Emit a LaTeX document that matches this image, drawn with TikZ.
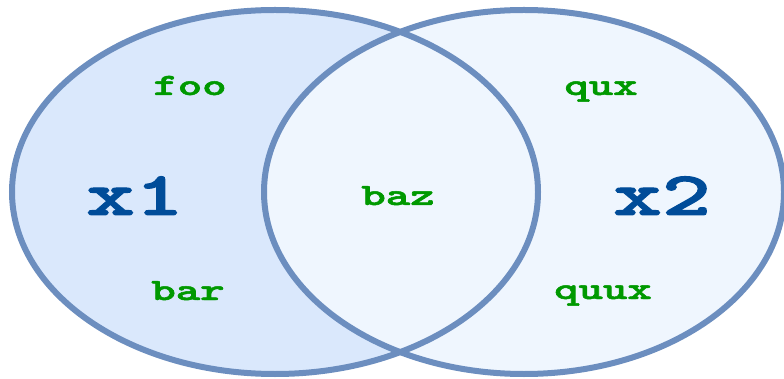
\documentclass[tikz,border=0pt]{standalone}
\usepackage{graphicx}
\usepackage{fontspec}
\newfontfamily\boldmono{lmmonolt10-bold.otf}[FakeBold=1.6]
\definecolor{edgeblue}{HTML}{6C8EBF}
\definecolor{leftfill}{HTML}{DAE8FC}
\definecolor{rightfill}{HTML}{EFF6FE}
\definecolor{lblgreen}{HTML}{009900}
\definecolor{setblue}{HTML}{004C99}
\newcommand\hstretch[1]{\scalebox{1.5}[1]{#1}}
\tikzset{
  setedge/.style={draw=edgeblue, line width=6pt},
  lbl/.style={anchor=base, inner sep=0pt, text=lblgreen, font=\boldmono\fontsize{31}{31}\selectfont},
  setlbl/.style={anchor=base, inner sep=0pt, text=setblue, font=\boldmono\fontsize{62}{62}\selectfont}
}
\begin{document}
\begin{tikzpicture}[x=1pt,y=-1pt]
\useasboundingbox (0,0) rectangle (784,379);
\fill[leftfill] (275,192) ellipse [x radius=263, y radius=182];
\fill[rightfill] (524,192) ellipse [x radius=260, y radius=182];
\draw[setedge] (275,192) ellipse [x radius=263, y radius=182];
\draw[setedge] (524,192) ellipse [x radius=260, y radius=182];
\node[setlbl] (x1) at (135,215) {\hstretch{x1}};
\node[setlbl] (x2) at (662,215) {\hstretch{x2}};
\node[lbl] (foo) at (190,95) {\hstretch{foo}};
\node[lbl] (bar) at (188,300) {\hstretch{bar}};
\node[lbl] (baz) at (398,205) {\hstretch{baz}};
\node[lbl] (qux) at (601,95) {\hstretch{qux}};
\node[lbl] (quux) at (603,299) {\hstretch{quux}};
\end{tikzpicture}
\end{document}
